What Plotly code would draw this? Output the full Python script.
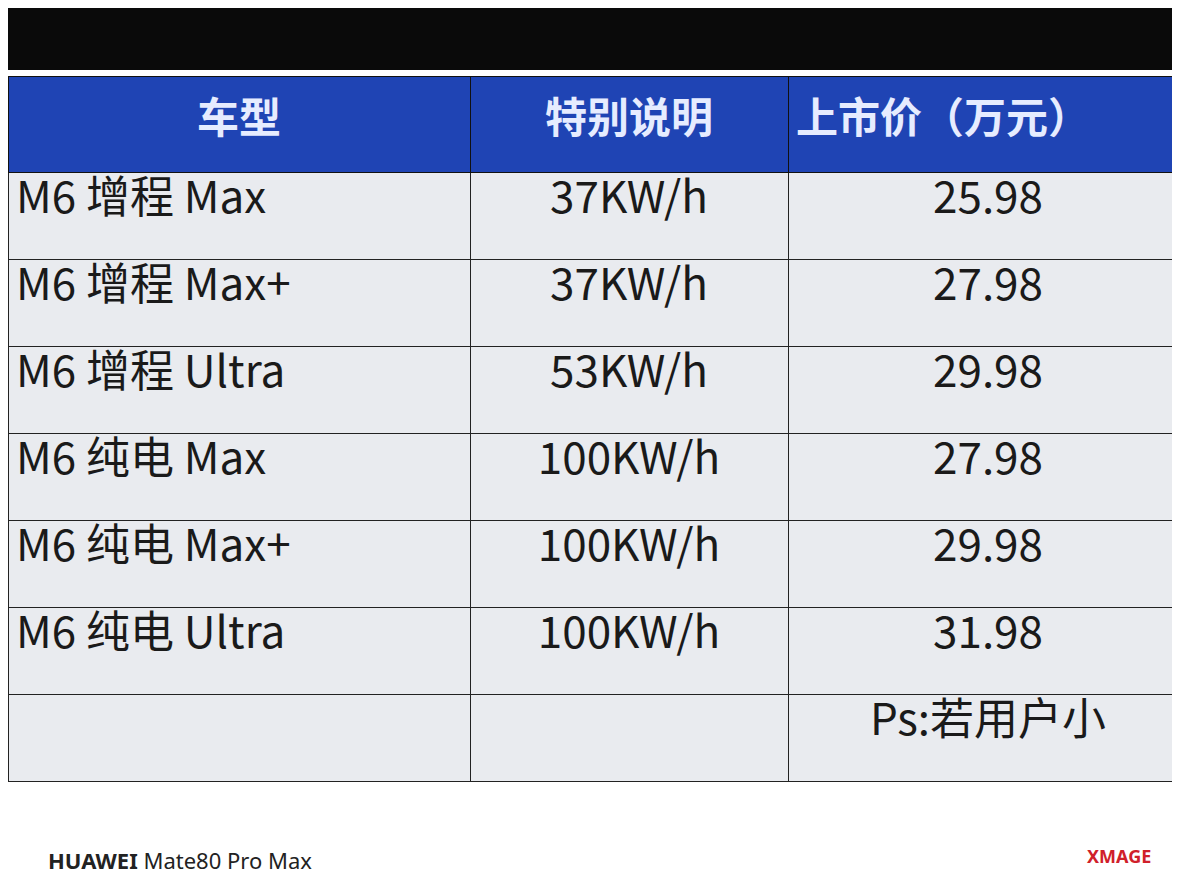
import plotly.graph_objects as go

headers = ["车型", "特别说明", "上市价（万元）"]
models = ["M6 增程 Max", "M6 增程 Max+", "M6 增程 Ultra", "M6 纯电 Max", "M6 纯电 Max+", "M6 纯电 Ultra"]
notes = ["37KW/h", "37KW/h", "53KW/h", "100KW/h", "100KW/h", "100KW/h"]
prices = ["25.98", "27.98", "29.98", "27.98", "29.98", "31.98"]
ps_note = "Ps:若用户小"

col1 = models + [""]
col2 = notes + [""]
col3 = prices + [ps_note]

W, H = 1180, 892
fig = go.Figure(go.Table(
    domain=dict(x=[0, 1], y=[(H - 800) / H, (H - 68) / H]),
    columnwidth=[462, 318, 400],
    header=dict(values=["<b>%s</b>" % h for h in headers],
                fill_color="#1f44b4", line_color="#111", height=96,
                align=["center", "center", "left"],
                font=dict(family="Noto Sans CJK SC", size=42, color="#e6ecff")),
    cells=dict(values=[col1, col2, col3],
               fill_color="#e9ebef", line_color="#222", height=87,
               align=["left", "center", "center"],
               font=dict(family="Noto Sans CJK SC", size=44, color="#1a1a1a")),
))
fig.update_layout(
    width=W, height=H, margin=dict(l=0, r=0, t=0, b=0),
    paper_bgcolor="white",
    shapes=[dict(type="rect", xref="paper", yref="paper", x0=0, x1=1,
                 y0=(H - 62) / H, y1=1, fillcolor="#0a0a0a", line_width=0, layer="below")],
    annotations=[
        dict(text="<b>HUAWEI</b> Mate80 Pro Max", x=38 / W, y=(H - 852) / H, xref="paper", yref="paper",
             xanchor="left", yanchor="middle", showarrow=False,
             font=dict(family="Noto Sans", size=22, color="#222")),
        dict(text="<b>XMAGE</b>", x=1145 / W, y=(H - 848) / H, xref="paper", yref="paper",
             xanchor="right", yanchor="middle", showarrow=False,
             font=dict(family="Noto Sans", size=18, color="#d0202a")),
    ],
)
fig.write_html("out.html")
